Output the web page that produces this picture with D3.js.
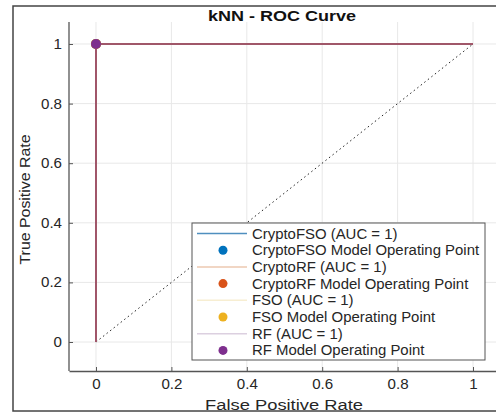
<!DOCTYPE html>
<html>
<head>
<meta charset="utf-8">
<script src="https://cdn.jsdelivr.net/npm/d3@7"></script>
<style>
  html, body { margin: 0; padding: 0; background: #fff; }
  svg { display: block; font-family: "Liberation Sans", Arial, sans-serif; }
</style>
</head>
<body>
<svg id="chart" width="496" height="414"></svg>
<script>
// ---- data ----
const titleText = "kNN - ROC Curve";
const xLabelText = "False Positive Rate";
const yLabelText = "True Positive Rate";
const models = ["CryptoFSO", "CryptoRF", "FSO", "RF"];
const aucValues = [1, 1, 1, 1];
const rocFPR = [0, 0, 1];
const rocTPR = [0, 1, 1];
const opFPR = [0, 0, 0, 0];
const opTPR = [1, 1, 1, 1];
const diagFPR = [0, 1];
const diagTPR = [0, 1];
const xTicks = [0, 0.2, 0.4, 0.6, 0.8, 1];
const yTicks = [0, 0.2, 0.4, 0.6, 0.8, 1];
const xDomain = [-0.0716, 1.0716];
const yDomain = [-0.0973, 1.0738];

// ---- styles ----
const markerColors = ["#0072BD", "#D95319", "#EDB120", "#7E2F8E"];
const legendLineColors = ["#4f8fbf", "#edc9b0", "#f7eed2", "#dcd0e0"];

const svg = d3.select("#chart");
const pL = 69, pR = 500, pT = 22, pB = 371;

const x = d3.scaleLinear().domain(xDomain).range([pL, pR]);
const y = d3.scaleLinear().domain(yDomain).range([pB, pT]);

function stretch(sel, factor) {
  sel.each(function () {
    const len = this.getComputedTextLength();
    d3.select(this).attr("textLength", len * factor).attr("lengthAdjust", "spacingAndGlyphs");
  });
}

// outer frame
svg.append("rect").attr("x", 13).attr("y", 6).attr("width", 500).attr("height", 405)
  .attr("fill", "#fff").attr("stroke", "#444").attr("stroke-width", 1.5);

// grid
const g = svg.append("g");
g.selectAll(".gx").data(xTicks).join("line")
  .attr("x1", d => x(d)).attr("x2", d => x(d)).attr("y1", pT).attr("y2", pB)
  .attr("stroke", "#e8e8e8").attr("stroke-width", 1);
g.selectAll(".gy").data(yTicks).join("line")
  .attr("y1", d => y(d)).attr("y2", d => y(d)).attr("x1", pL).attr("x2", pR)
  .attr("stroke", "#e8e8e8").attr("stroke-width", 1);

// axes
const xAxis = d3.axisBottom(x).tickValues(xTicks).tickFormat(d3.format("~g")).tickSizeInner(-4).tickSizeOuter(0).tickPadding(8);
const yAxis = d3.axisLeft(y).tickValues(yTicks).tickFormat(d3.format("~g")).tickSizeInner(-4).tickSizeOuter(0).tickPadding(7);
const gx = svg.append("g").attr("transform", `translate(0,${pB})`).call(xAxis);
const gy = svg.append("g").attr("transform", `translate(${pL},0)`).call(yAxis);
[gx, gy].forEach(a => {
  a.select(".domain").attr("stroke", "#555").attr("stroke-width", 1.3);
  a.selectAll(".tick line").attr("stroke", "#555");
  a.selectAll(".tick text").attr("fill", "#262626").style("font-size", "14px")
   .style("font-family", "'Liberation Sans', Arial, sans-serif");
  stretch(a.selectAll(".tick text"), 1.08);
});
gy.select(".domain").attr("d", `M0,${pB}V${pT}`);

// diagonal
const line = d3.line().x(d => x(d[0])).y(d => y(d[1]));
svg.append("path").datum(diagFPR.map((v, i) => [v, diagTPR[i]]))
  .attr("d", line).attr("fill", "none").attr("stroke", "#222")
  .attr("stroke-width", 1).attr("stroke-dasharray", "1.5,3");

// ROC curves
models.forEach((m, i) => {
  svg.append("path").datum(rocFPR.map((v, j) => [v, rocTPR[j]]))
    .attr("d", line).attr("fill", "none").attr("stroke", markerColors[i])
    .attr("stroke-width", 1.5).attr("opacity", i === 3 ? 0.85 : 1);
});
// operating points
models.forEach((m, i) => {
  svg.append("circle").attr("cx", x(opFPR[i])).attr("cy", y(opTPR[i]))
    .attr("r", 5).attr("fill", markerColors[i]);
});

// title and labels
svg.append("text").attr("x", 282).attr("y", 21).attr("text-anchor", "middle")
  .style("font-size", "14px").style("font-weight", "bold").attr("fill", "#111").text(titleText)
  .attr("textLength", 148).attr("lengthAdjust", "spacingAndGlyphs");
svg.append("text").attr("x", 284).attr("y", 410).attr("text-anchor", "middle")
  .style("font-size", "14px").attr("fill", "#262626").text(xLabelText)
  .attr("textLength", 158).attr("lengthAdjust", "spacingAndGlyphs");
svg.append("text").attr("transform", `translate(30,${(pT + pB) / 2 + 3}) rotate(-90)`)
  .attr("text-anchor", "middle").style("font-size", "14px").attr("fill", "#262626").text(yLabelText)
  .attr("textLength", 130).attr("lengthAdjust", "spacingAndGlyphs");

// legend
const lg = svg.append("g");
lg.append("rect").attr("x", 192).attr("y", 223).attr("width", 293).attr("height", 137)
  .attr("fill", "#fff").attr("stroke", "#555").attr("stroke-width", 1);
const entries = [];
models.forEach((m, i) => {
  entries.push({ type: "line", label: `${m} (AUC = ${aucValues[i]})`, i });
  entries.push({ type: "dot", label: `${m} Model Operating Point`, i });
});
entries.forEach((e, k) => {
  const cy = 233.5 + k * 16.7;
  if (e.type === "line") {
    lg.append("line").attr("x1", 197).attr("x2", 247).attr("y1", cy).attr("y2", cy)
      .attr("stroke", legendLineColors[e.i]).attr("stroke-width", 1.5);
  } else {
    lg.append("circle").attr("cx", 223).attr("cy", cy).attr("r", 4.5).attr("fill", markerColors[e.i]);
  }
  const t = lg.append("text").attr("x", 252).attr("y", cy + 5).style("font-size", "14px")
    .attr("fill", "#262626").text(e.label);
  stretch(t, 1.065);
});
</script>
</body>
</html>
